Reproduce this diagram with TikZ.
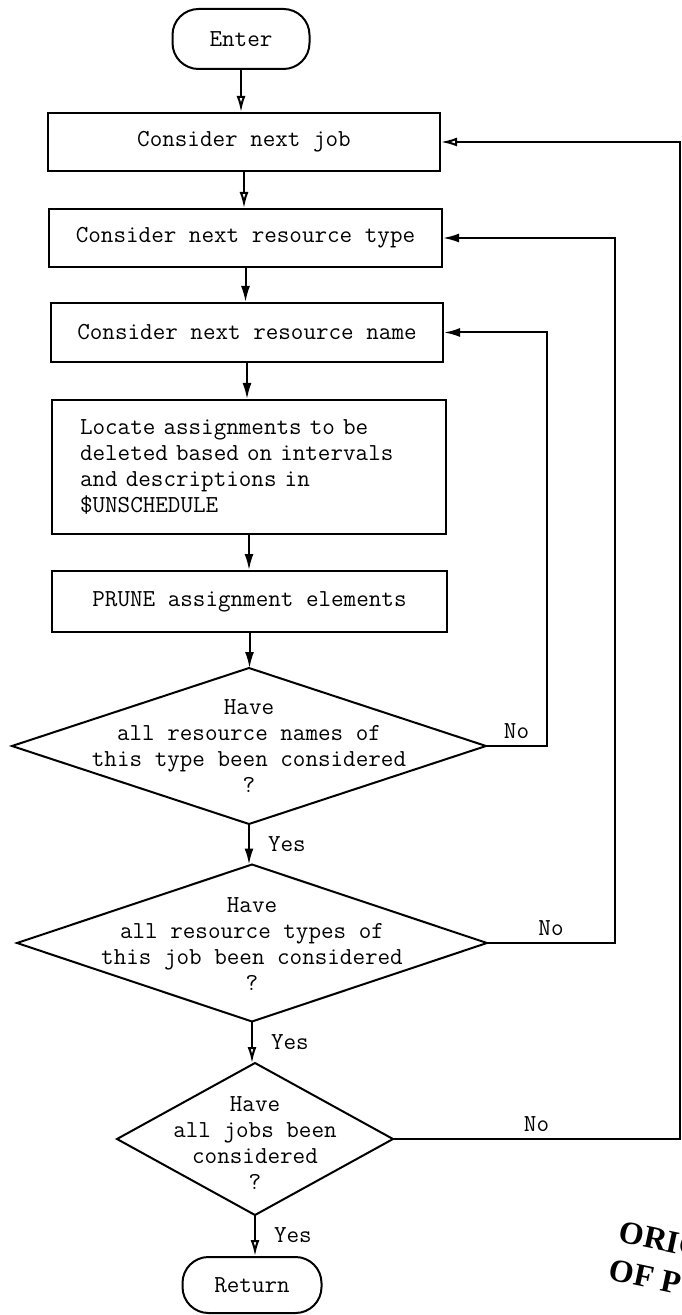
\documentclass[tikz,border=0pt]{standalone}
\usepackage{fontspec}
\newfontfamily\stampfont{Liberation Serif}
\usetikzlibrary{shapes.geometric,arrows.meta}
\begin{document}
\begin{tikzpicture}[x=0.5pt,y=-0.5pt, line width=1pt,
  txt/.style={font=\ttfamily\fontsize{12.2}{13}\selectfont},
  proc/.style={txt, draw, rectangle, inner sep=0pt, align=center},
  term/.style={txt, draw, rectangle, rounded corners=13pt, inner sep=0pt},
  dec/.style={draw, diamond, inner sep=0pt, outer sep=0pt},
  dtext/.style={txt, align=center, inner sep=0pt},
  arr/.style={-{Latex[length=8pt,width=4.5pt]}},
  oarr/.style={-{Latex[open,length=8pt,width=4.5pt]}},
  yes/.style={txt, right, inner sep=2pt, xshift=7pt},
  no/.style={txt, above, inner sep=3pt},
  stamp/.style={font=\stampfont\bfseries\fontsize{16}{16}\selectfont, rotate=-12, anchor=base west, inner sep=0pt}]
\useasboundingbox (0,0) rectangle (681,1315);

% nodes
\node[term, minimum width=68.5pt, minimum height=30pt] (enter) at (241,39) {Enter};
\node[proc, minimum width=196pt, minimum height=29pt] (b1) at (244,142) {Consider next job};
\node[proc, minimum width=196.5pt, minimum height=29pt] (b2) at (245.5,238) {Consider next resource type};
\node[proc, minimum width=196pt, minimum height=29.5pt] (b3) at (247,332.5) {Consider next resource name};
\node[txt, draw, rectangle, minimum width=197pt, minimum height=67pt, text width=169pt, align=left, inner xsep=14pt, inner ysep=0pt] (b4) at (249,467) {Locate assignments to be\\deleted based on intervals\\and descriptions in\\\$UNSCHEDULE};
\node[proc, minimum width=197.5pt, minimum height=30.5pt] (b5) at (249.5,601.5) {PRUNE assignment elements};

\node[dec, minimum width=237pt, minimum height=78pt] (d1) at (249,746) {};
\node[dtext] (t1) at (249,746) {Have\\all resource names of\\this type been considered\\?};
\node[dec, minimum width=235pt, minimum height=78.5pt] (d2) at (252,943) {};
\node[dtext] (t2) at (252,944) {Have\\all resource types of\\this job been considered\\?};
\node[dec, minimum width=138pt, minimum height=76pt] (d3) at (255,1139) {};
\node[dtext] (t3) at (255,1143) {Have\\all jobs been\\considered\\?};

\node[term, minimum width=69.5pt, minimum height=28pt] (ret) at (252,1285) {Return};

% loop coordinates
\coordinate (c1) at (547,0);
\coordinate (c2) at (615,0);
\coordinate (c3) at (680,0);

% main flow
\draw[oarr] (enter.south) -- (enter.south |- b1.north);
\draw[oarr] (b1.south) -- (b1.south |- b2.north);
\draw[arr] (b2.south) -- (b2.south |- b3.north);
\draw[arr] (b3.south) -- (b3.south |- b4.north);
\draw[arr] (b4.south) -- (b4.south |- b5.north);
\draw[arr] (b5.south) -- (b5.south |- d1.north);
\draw[arr] (d1.south) -- node[yes] (y1) {Yes} (d1.south |- d2.north);
\draw[oarr] (d2.south) -- node[yes] (y2) {Yes} (d2.south |- d3.north);
\draw[oarr] (d3.south) -- node[yes] (y3) {Yes} (d3.south |- ret.north);

% loops
\draw[arr] (d1.east) -- node[no] (n1) {No} (d1.east -| c1) -- (c1 |- b3.east) -- (b3.east);
\draw[arr] (d2.east) -- node[no] (n2) {No} (d2.east -| c2) -- (c2 |- b2.east) -- (b2.east);
\draw[oarr] (d3.east) -- node[no] (n3) {No} (d3.east -| c3) -- (c3 |- b1.east) -- (b1.east);

% stamp
\begin{scope}
\clip (0,0) rectangle (681,1315);
\node[stamp] (s1) at (617,1241) {ORIG};
\node[stamp] (s2) at (607,1279) {OF P};
\end{scope}
\end{tikzpicture}
\end{document}
